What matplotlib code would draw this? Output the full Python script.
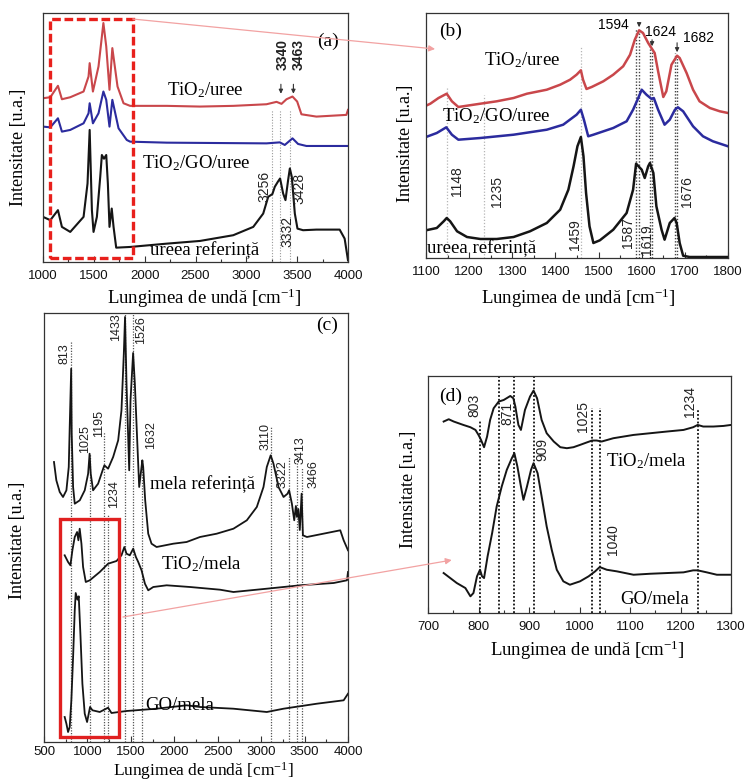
import matplotlib
matplotlib.use("Agg")
import matplotlib.pyplot as plt
from matplotlib.patches import Rectangle, ConnectionPatch
from matplotlib.ticker import MultipleLocator

plt.rcParams.update({
    "font.family": ["Liberation Sans", "DejaVu Sans"],
    "mathtext.fontset": "custom",
    "mathtext.rm": "Liberation Serif",
    "mathtext.it": "Liberation Serif:italic",
    "mathtext.bf": "Liberation Serif:bold",
})
SERIF = ["Liberation Serif", "DejaVu Serif"]

RED = "#c9474b"
BLUE = "#2b2b9e"
BLACK = "#151515"
PINK = "#f2a2a2"

# ---------------- (a) uree, 1000-4000 cm-1 ----------------
a_tio2_wn = [1000, 1072, 1147, 1186, 1268, 1399, 1448, 1459, 1491, 1546, 1594, 1622, 1654, 1682,
             1733, 1792, 1857, 2217, 2544, 2871, 3198, 3297, 3346, 3395, 3454, 3500, 3542, 3689,
             3984, 4000]
a_tio2_int = [163.3, 164.3, 175.7, 162.3, 164.3, 170, 185, 198.3, 170, 195, 238.3, 215, 171.7, 213.3,
              175, 158.3, 155.7, 155.7, 155, 155.7, 157.3, 159.7, 157.7, 162.3, 165, 160, 147.3, 145,
              146.7, 151.7]
a_go_wn = [1000, 1072, 1147, 1186, 1268, 1399, 1448, 1459, 1491, 1546, 1594, 1622, 1654, 1682, 1743,
           1824, 1857, 2217, 3198, 3329, 3378, 3454, 3509, 3591, 4000]
a_go_int = [135, 134.3, 143.3, 130, 131.7, 138.3, 148.3, 158.3, 138.3, 148.3, 170, 161.7, 135, 161.7,
            133.3, 121.7, 120, 119, 118.3, 119.3, 116.7, 123.3, 117.7, 115.7, 115.7]
a_ref_wn = [1000, 1072, 1147, 1186, 1268, 1399, 1438, 1459, 1481, 1497, 1530, 1563, 1579, 1600, 1622,
            1638, 1654, 1676, 1694, 1720, 1857, 2217, 2544, 2871, 3068, 3166, 3215, 3256, 3280, 3310,
            3332, 3362, 3385, 3411, 3428, 3447, 3477, 3503, 3558, 3689, 3918, 3967, 4000]
a_ref_int = [45, 41.7, 51.7, 35, 30, 45, 78.3, 131.7, 51.7, 30, 45, 85, 106.7, 103, 106.7,
             78.3, 35, 53.3, 35, 14.3, 15, 18.3, 21, 26.7, 35, 48.3, 65, 67.7, 75, 80,
             83.3, 68.3, 61.7, 81.7, 93.3, 85, 48.3, 33.3, 31.7, 32.3, 32.3, 23.3, 1.7]
a_guides = [3256, 3332, 3428]
a_arrow_peaks = [3340, 3463]
a_zoom_box = (1065, 1883, 4.3, 242.3)   # wavenumber range and intensity range of the inset box

# ---------------- (b) uree, 1100-1800 cm-1 ----------------
b_tio2_wn = [1100, 1110, 1129, 1148, 1160, 1175, 1195, 1226, 1264, 1303, 1334, 1380, 1411, 1434,
             1449, 1459, 1464, 1472, 1484, 1511, 1534, 1557, 1573, 1584, 1594, 1603, 1615, 1624,
             1630, 1638, 1650, 1657, 1669, 1682, 1688, 1704, 1719, 1734, 1758, 1781, 1800]
b_tio2_int = [152.3, 154.3, 160, 164.3, 156.7, 151, 152.3, 154.3, 156.7, 160, 164.3, 168.3, 173.3,
              178.3, 183.3, 187.7, 178.3, 169, 171, 176.7, 183.3, 191.7, 203.3, 218.3, 227.7, 225,
              215, 209, 205, 186.7, 161, 166.7, 193.3, 202.3, 200, 185, 168.3, 156.7, 150, 146.7, 145]
b_go_wn = [1100, 1125, 1147, 1160, 1175, 1226, 1303, 1380, 1418, 1449, 1459, 1466, 1476, 1488, 1534,
           1565, 1580, 1592, 1600, 1611, 1623, 1628, 1638, 1653, 1665, 1677, 1684, 1696, 1719, 1742,
           1765, 1800]
b_go_int = [121, 125, 130.7, 123.3, 118.3, 120, 123.3, 128.3, 133.3, 143.3, 148.3, 138.3, 121.7,
            123.3, 130, 136.7, 148.3, 160, 168.3, 163.3, 159, 160, 148.3, 133.3, 138.3, 148.3, 150.7,
            146.7, 131.7, 121.7, 116.7, 111.7]
b_ref_wn = [1100, 1125, 1141, 1148, 1156, 1172, 1195, 1226, 1264, 1303, 1341, 1380, 1411, 1430, 1442,
            1451, 1459, 1465, 1471, 1479, 1488, 1503, 1534, 1565, 1580, 1587, 1600, 1607, 1615, 1619,
            1627, 1634, 1646, 1653, 1665, 1676, 1681, 1688, 1696, 1711, 1800]
b_ref_int = [27.7, 30, 36.7, 40, 36.7, 26.7, 21, 19, 19, 21, 26.7, 35, 48.3, 68.3, 91.7,
             111.7, 121, 101.7, 65, 31.7, 15, 17.7, 28.3, 45, 68.3, 94.3, 88.3, 80, 91.7, 95,
             85, 51.7, 28.3, 18.3, 35, 40, 35, 15, 2.3, 1, 1]
b_light_guides = [1148, 1235, 1459]
b_dark_guides = [1587, 1594, 1619, 1624, 1676, 1682]
b_arrow_peaks = [1594, 1624, 1682]

# ---------------- (c) melamina, 500-4000 cm-1 ----------------
c_ref_wn = [615, 642, 681, 719, 758, 785, 796, 813, 819, 835, 854, 912, 969, 1008, 1025, 1038, 1065,
            1123, 1181, 1195, 1238, 1296, 1354, 1392, 1419, 1433, 1450, 1481, 1496, 1526, 1546, 1573,
            1596, 1632, 1642, 1665, 1700, 1738, 1796, 1988, 2142, 2296, 2488, 2681, 2835, 2950, 3027,
            3065, 3110, 3142, 3200, 3258, 3304, 3322, 3354, 3381, 3400, 3413, 3428, 3445, 3466, 3481,
            3527, 3911, 3950, 4000]
c_ref_int = [280, 261.7, 250, 245, 251.7, 275, 315, 373.3, 308.3, 255, 238.3, 241.7, 251.7, 268.3,
             288.3, 268.3, 251.7, 258.3, 273.3, 276.7, 273.3, 285, 301.7, 331.7, 388.3, 425, 358.3,
             271.7, 341.7, 389, 358.3, 301.7, 255, 281.7, 275, 241.7, 208.3, 198.3, 195, 198.3, 200,
             205, 208.3, 213.3, 221.7, 235, 255, 275, 286.7, 278.3, 255, 245, 248.3, 251.7, 238.3,
             221.7, 236, 225, 233, 212, 248.3, 206.7, 205, 211.7, 201.7, 191.7]
c_tio2_wn = [738, 777, 804, 827, 854, 881, 896, 911, 931, 950, 981, 1027, 1142, 1238, 1335, 1392,
             1425, 1450, 1488, 1527, 1558, 1585, 1623, 1662, 1700, 1758, 1912, 2181, 2527, 2681,
             3065, 3450, 3835, 3988, 4000]
c_tio2_int = [186.7, 180, 176.7, 191.7, 205, 210, 201.7, 213.3, 198.3, 175, 160, 161.7, 170, 178.3,
              181, 186.7, 195, 188.3, 186.7, 193.3, 185, 180, 171.7, 158.3, 151.7, 155, 156.7, 155,
              152.3, 150, 153.3, 156.7, 159, 161.7, 170]
c_go_wn = [738, 758, 777, 796, 815, 835, 854, 865, 885, 900, 919, 942, 969, 996, 1030, 1058, 1142,
           1238, 1277, 1450, 1796, 2142, 2296, 2681, 3065, 3258, 3642, 3950, 4000]
c_go_int = [25, 18.3, 10, 15, 41.7, 85, 131.7, 149, 142.3, 145.7, 108.3, 58.3, 28.3, 20, 35, 31.7,
            30, 34.3, 29, 31, 33.3, 36.7, 35, 33.3, 30, 33.3, 38.3, 41.7, 48.3]
c_peaks = [813, 1025, 1195, 1234, 1433, 1526, 1632, 3110, 3322, 3413, 3466]
c_zoom_box = (681, 1365, 5, 223.3)

# ---------------- (d) melamina, 700-1300 cm-1 ----------------
d_tio2_wn = [731, 741, 751, 770, 784, 794, 800, 805, 811, 817, 823, 830, 840, 850, 863, 869, 873,
             879, 884, 892, 902, 909, 916, 925, 935, 949, 962, 975, 988, 1001, 1014, 1025, 1034,
             1044, 1067, 1107, 1140, 1173, 1206, 1225, 1234, 1245, 1265, 1285, 1300]
d_tio2_int = [191.7, 194, 191.7, 188.3, 186, 183.3, 178.3, 173.3, 166, 176.7, 193.3, 205, 211.7,
              213.3, 217.3, 215, 206.7, 188.3, 183.3, 203.3, 216.7, 222.7, 215, 193.3, 180, 171.7,
              166, 165, 166, 168.3, 170.7, 172.7, 172.7, 171.7, 175, 178.3, 180, 181.7, 183.3, 186,
              188.3, 186.7, 186.7, 187.3, 188.3]
d_go_wn = [731, 744, 757, 774, 784, 790, 797, 803, 807, 811, 818, 827, 836, 846, 856, 866, 871, 877,
           884, 889, 896, 904, 909, 917, 925, 935, 945, 955, 968, 981, 1001, 1018, 1031, 1040, 1054,
           1074, 1107, 1140, 1173, 1206, 1225, 1234, 1252, 1272, 1300]
d_go_int = [40, 35, 30, 25, 16.7, 20, 36.7, 43.3, 36.7, 35, 56.7, 80, 106.7, 126.7, 143.3, 155,
            160, 146.7, 126.7, 113.3, 126.7, 143.3, 150, 140, 116.7, 86.7, 63.3, 43.3, 31.7, 28.3,
            31.7, 36.7, 41.7, 46, 43.3, 41.7, 38.3, 39.3, 40, 40.7, 42.7, 42.7, 40.7, 38.3, 38.3]
d_peaks = [803, 871, 909, 1025, 1040, 1234]
d_extra_guide = [841]

# ---------------- layout ----------------
W, H = 750, 781
fig = plt.figure(figsize=(W / 100, H / 100), dpi=100)


def px_axes(left, top, right, bottom):
    return fig.add_axes([left / W, 1 - bottom / H, (right - left) / W, (bottom - top) / H])


def frame(ax, xlim, ylim, step, xlab_pos, ylab_pos, xlab_size=13.5, tick_pad=5.5):
    ax.set_xlim(*xlim)
    ax.set_ylim(*ylim)
    ax.set_yticks([])
    ax.xaxis.set_major_locator(MultipleLocator(step))
    ax.xaxis.set_minor_locator(MultipleLocator(step / 2))
    ax.tick_params(axis="x", which="both", direction="in", top=False, labelsize=9.5,
                   pad=tick_pad, color="#333333", width=0.8, labelcolor="#111111")
    ax.tick_params(axis="x", which="major", length=4)
    ax.tick_params(axis="x", which="minor", length=2.2)
    for s in ax.spines.values():
        s.set_linewidth(0.9)
        s.set_color("#333333")
    ax.set_xlabel("Lungimea de undă [cm$^{-1}$]", fontfamily=SERIF, fontsize=xlab_size)
    ax.set_ylabel("Intensitate [u.a.]", fontfamily=SERIF, fontsize=13)
    ax.xaxis.set_label_coords(*xlab_pos)
    ax.yaxis.set_label_coords(*ylab_pos)


def label(ax, x, y, s, size=13.5, **kw):
    ax.text(x, y, s, fontfamily=SERIF, fontsize=size, ha="center", va="center", **kw)


def vnum(ax, x, y, s, size, **kw):
    ax.text(x, y, s, fontsize=size, rotation=90, ha="center", va="center", color="#222222", **kw)


ax_a = px_axes(43, 13, 348, 262)
ax_b = px_axes(426, 13, 728, 258)
ax_c = px_axes(44, 313, 348, 742)
ax_d = px_axes(428, 376, 731, 613)

# ---- (a)
frame(ax_a, (1000, 4000), (0, 248.3), 500, (0.53, -0.10), (-0.052, 0.46))
ax_a.vlines(a_guides, 0, 152, colors="#9a9a9a", linestyles=(0, (1, 1.5)), lw=0.8)
ax_a.plot(a_tio2_wn, a_tio2_int, color=RED, lw=1.5)
ax_a.plot(a_go_wn, a_go_int, color=BLUE, lw=1.5)
ax_a.plot(a_ref_wn, a_ref_int, color=BLACK, lw=1.5)
x0, x1, y0, y1 = a_zoom_box
ax_a.add_patch(Rectangle((x0, y0), x1 - x0, y1 - y0, fill=False, ec="#e8201c",
                         lw=2.4, ls=(0, (2.6, 1.1)), zorder=5))
for wn in a_arrow_peaks:
    ax_a.annotate("", xy=(wn, 165), xytext=(wn, 180),
                  arrowprops=dict(arrowstyle="-|>", color="#333333", lw=0.8, mutation_scale=6))
vnum(ax_a, 3361, 207, "3340", 10, fontweight="bold")
vnum(ax_a, 3518, 207, "3463", 10, fontweight="bold")
vnum(ax_a, 3182, 75, "3256", 10)
vnum(ax_a, 3401, 30, "3332", 10)
vnum(ax_a, 3526, 73.3, "3428", 10)
label(ax_a, 3804, 220, "(a)", 14)
label(ax_a, 2593, 171.7, "TiO$_2$/uree")
label(ax_a, 2511, 98.3, "TiO$_2$/GO/uree")
label(ax_a, 2593, 11.7, "ureea referință")

# ---- (b)
frame(ax_b, (1100, 1800), (0, 245), 100, (0.505, -0.118), (-0.04, 0.47))
ax_b.vlines(b_light_guides, 0, [170, 163, 212], colors="#b5b5b5", linestyles=(0, (1, 1.5)), lw=0.9)
ax_b.vlines(b_dark_guides, 0, [230, 228, 215, 210, 205, 203], colors="#444444",
            linestyles=(0, (1, 1.3)), lw=1.0)
ax_b.plot(b_tio2_wn, b_tio2_int, color=RED, lw=1.8)
ax_b.plot(b_go_wn, b_go_int, color=BLUE, lw=1.8)
ax_b.plot(b_ref_wn, b_ref_int, color=BLACK, lw=1.8)
for wn, ytop, ytip in zip(b_arrow_peaks, (238, 221, 218), (228, 209, 203)):
    ax_b.annotate("", xy=(wn, ytip), xytext=(wn, ytop),
                  arrowprops=dict(arrowstyle="-|>", color="#333333", lw=0.8, mutation_scale=6))
ax_b.text(1534, 233.3, "1594", fontsize=10, ha="center", va="center")
ax_b.text(1643.5, 225.7, "1624", fontsize=10, ha="center", va="center")
ax_b.text(1730.6, 220, "1682", fontsize=10, ha="center", va="center")
vnum(ax_b, 1171.7, 76.7, "1148", 10)
vnum(ax_b, 1264.2, 66.7, "1235", 10)
vnum(ax_b, 1445.4, 23.3, "1459", 10)
vnum(ax_b, 1568.7, 25, "1587", 10)
vnum(ax_b, 1611.2, 18.3, "1619", 10)
vnum(ax_b, 1705, 66.7, "1676", 10)
label(ax_b, 1156, 226.7, "(b)", 14)
label(ax_b, 1322, 198.3, "TiO$_2$/uree")
label(ax_b, 1264, 141.7, "TiO$_2$/GO/uree")
ax_b.text(1102, 10, "ureea referință", fontfamily=SERIF, fontsize=13.5, ha="left", va="center")

# ---- (c)
frame(ax_c, (500, 4000), (0, 429), 500, (0.525, -0.043), (-0.059, 0.47), xlab_size=12.5,
      tick_pad=3)
c_tops = [400, 288, 310, 228, 428, 429, 283, 315, 285, 285, 275]
ax_c.vlines(c_peaks, 0, c_tops, colors="#555555", linestyles=(0, (1, 1.2)), lw=0.9)
ax_c.plot(c_ref_wn, c_ref_int, color=BLACK, lw=1.3)
ax_c.plot(c_tio2_wn, c_tio2_int, color=BLACK, lw=1.3)
ax_c.plot(c_go_wn, c_go_int, color=BLACK, lw=1.3)
x0, x1, y0, y1 = c_zoom_box
ax_c.add_patch(Rectangle((x0, y0), x1 - x0, y1 - y0, fill=False, ec="#e02020", lw=2.4, zorder=5))
c_label_xy = [(738, 388), (969, 303), (1135, 318), (1304, 248), (1335, 415), (1623, 412),
              (1738, 307), (3046, 305), (3250, 268), (3450, 292), (3604, 268)]
for wn, (tx, ty) in zip(c_peaks, c_label_xy):
    vnum(ax_c, tx, ty, str(wn), 9)
label(ax_c, 3758, 416.7, "(c)", 14)
ax_c.text(1719, 258.3, "mela referință", fontfamily=SERIF, fontsize=13.5, ha="left", va="center")
label(ax_c, 2315, 178.3, "TiO$_2$/mela")
label(ax_c, 2065, 36.7, "GO/mela")

# ---- (d)
frame(ax_d, (700, 1300), (0, 237.3), 100, (0.525, -0.11), (-0.036, 0.52))
d_guides = sorted(d_peaks + d_extra_guide)
d_tops = {803: 193, 841: 237.3, 871: 237.3, 909: 237.3, 1025: 205, 1040: 205, 1234: 203}
ax_d.vlines(d_guides, 0, [d_tops[g] for g in d_guides], colors="#111111",
            linestyles=(0, (1, 1.1)), lw=1.3)
ax_d.plot(d_tio2_wn, d_tio2_int, color=BLACK, lw=1.4)
ax_d.plot(d_go_wn, d_go_int, color=BLACK, lw=1.4)
d_label_xy = [(791.6, 208.3), (857.6, 200), (925.5, 163.3), (1007.9, 196.7), (1067.2, 73.3),
              (1218.9, 211.7)]
for wn, (tx, ty) in zip(d_peaks, d_label_xy):
    vnum(ax_d, tx, ty, str(wn), 10)
label(ax_d, 744, 216.7, "(d)", 14)
label(ax_d, 1133, 151.7, "TiO$_2$/mela")
label(ax_d, 1149.6, 13.3, "GO/mela")

# connectors between overview boxes and zoomed panels
con_ab = ConnectionPatch(xyA=(a_zoom_box[1], a_zoom_box[3]), coordsA=ax_a.transData,
                         xyB=(1121, 209), coordsB=ax_b.transData, arrowstyle="-|>",
                         mutation_scale=9, color=PINK, lw=0.9)
fig.add_artist(con_ab)
con_cd = ConnectionPatch(xyA=(1409, 125), coordsA=ax_c.transData,
                         xyB=(747, 53), coordsB=ax_d.transData, arrowstyle="-|>",
                         mutation_scale=9, color=PINK, lw=0.9)
fig.add_artist(con_cd)

fig.savefig("out.png", dpi=100)
